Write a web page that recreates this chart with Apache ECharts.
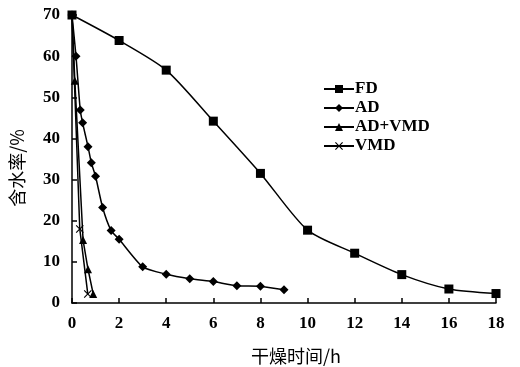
<!DOCTYPE html>
<html><head><meta charset="utf-8">
<script src="https://cdn.jsdelivr.net/npm/echarts@6/dist/echarts.min.js"></script>
<style>html,body{margin:0;padding:0;background:#fff;}#c{width:520px;height:367px;}</style>
</head><body><div id="c"></div>
<script>
var xTicks = [0,2,4,6,8,10,12,14,16,18];
var yTicks = [0,10,20,30,40,50,60,70];
var fdX = [0,2,4,6,8,10,12,14,16,18];
var fdY = [70,63.8,56.6,44.2,31.5,17.7,12.1,6.9,3.4,2.3];
var adX = [0,0.17,0.35,0.45,0.68,0.82,1.0,1.3,1.66,2,3,4,5,6,7,8,9];
var adY = [70,60,46.9,43.8,38,34.1,30.8,23.2,17.6,15.5,8.8,7,5.9,5.2,4.2,4.1,3.2];
var avX = [0,0.12,0.47,0.68,0.9];
var avY = [70,54,15.3,8.2,2.2];
var vmdX = [0,0.33,0.67];
var vmdY = [70,18,2.2];
var names = ['FD','AD','AD+VMD','VMD'];

function pairs(xs, ys){ return xs.map(function(x,i){return [x, ys[i]];}); }
var font = '"Liberation Serif","DejaVu Serif",serif';
var cross = 'path://M0,1L1,0L5,4L9,0L10,1L6,5L10,9L9,10L5,6L1,10L0,9L4,5Z';
function ser(name, data, symbol, size, smooth){
  return {name:name, type:'line', data:data, symbol:symbol, symbolSize:size, smooth:smooth,
    lineStyle:{color:'#000', width:1.5}, itemStyle:{color:'#000'}, emphasis:{disabled:true}, z: 3};
}
var chart = echarts.init(document.getElementById('c'));
chart.setOption({
  animation:false,
  backgroundColor:'#fff',
  grid:{left:72, right:24, top:15, bottom:64, containLabel:false, outerBoundsMode:'none'},
  legend:{orient:'vertical', left:318, top:75, itemWidth:30, itemHeight:10, itemGap:1,
    textStyle:{fontFamily:font, fontSize:17, fontWeight:'bold', color:'#000', lineHeight:18, padding:[0,0,0,-4]},
    data:names},
  xAxis:{type:'value', min:0, max:18, interval:2,
    name:'干燥时间/h', nameLocation:'middle', nameGap:44,
    nameTextStyle:{fontFamily:'"Noto Sans CJK SC"', fontSize:18, color:'#000', padding:[0,0,0,24]},
    axisLine:{lineStyle:{color:'#000', width:1.5}},
    axisTick:{inside:true, length:5, lineStyle:{color:'#000', width:1.5}},
    axisLabel:{fontFamily:font, fontSize:17, fontWeight:'bold', color:'#000', margin:12,
      formatter:function(v){return xTicks.indexOf(v)>=0 ? String(v) : '';}},
    splitLine:{show:false}},
  yAxis:{type:'value', min:0, max:70, interval:10,
    name:'含水率/%', nameLocation:'middle', nameGap:46, nameRotate:90,
    nameTextStyle:{fontFamily:'"Noto Sans CJK SC"', fontSize:18, color:'#000', padding:[0,0,0,-18]},
    axisLine:{show:true, lineStyle:{color:'#000', width:1.5}},
    axisTick:{show:true, inside:true, length:5, lineStyle:{color:'#000', width:1.5}},
    axisLabel:{fontFamily:font, fontSize:17, fontWeight:'bold', color:'#000', margin:12,
      formatter:function(v){return yTicks.indexOf(v)>=0 ? String(v) : '';}},
    splitLine:{show:false}},
  series:[
    ser('FD', pairs(fdX, fdY), 'rect', 9, 0.25),
    ser('AD', pairs(adX, adY), 'diamond', 9, 0.2),
    ser('AD+VMD', pairs(avX, avY), 'triangle', 8, false),
    ser('VMD', pairs(vmdX, vmdY), cross, 8, false)
  ]
});
</script></body></html>
